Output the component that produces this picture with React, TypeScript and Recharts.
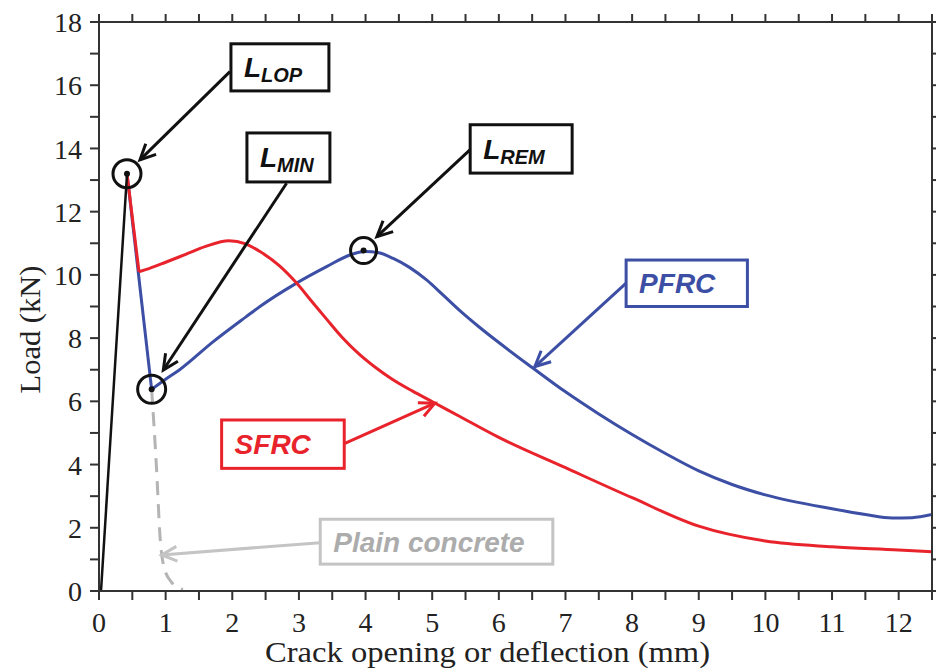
import React from 'react';
import {
  LineChart,
  Line,
  XAxis,
  YAxis,
  ReferenceDot,
  ReferenceLine,
  ReferenceArea,
} from 'recharts';

// axis ticks
const xTicks = [0, 0.5, 1, 1.5, 2, 2.5, 3, 3.5, 4, 4.5, 5, 5.5, 6, 6.5, 7, 7.5, 8, 8.5, 9, 9.5, 10, 10.5, 11, 11.5, 12, 12.5];
const yTicks = [0, 1, 2, 3, 4, 5, 6, 7, 8, 9, 10, 11, 12, 13, 14, 15, 16, 17, 18];

// elastic branch (common to all)
const elasticX = [0.03, 0.42];
const elasticY = [0, 13.2];

// SFRC: sharp drop then smooth tail
const sfrcDropX = [0.42, 0.6];
const sfrcDropY = [13.2, 10.1];
const sfrcX = [0.6, 0.75, 1.0, 1.3, 1.6, 1.95, 2.2, 2.415, 2.7, 2.965, 3.2, 3.415, 3.65, 3.9, 4.15, 4.4, 4.7, 5.01, 5.415, 6.0, 7.0, 8.0, 9.0, 10.0, 11.0, 12.0, 12.5];
const sfrcY = [10.1, 10.2, 10.4, 10.65, 10.9, 11.08, 10.98, 10.74, 10.3, 9.74, 9.14, 8.6, 8.02, 7.5, 7.07, 6.7, 6.33, 5.98, 5.52, 4.86, 3.9, 2.95, 2.05, 1.58, 1.4, 1.3, 1.24];

// PFRC: drop to L_MIN then hardening hump
const pfrcDropX = [0.42, 0.79];
const pfrcDropY = [13.2, 6.38];
const pfrcX = [0.79, 1.0, 1.21, 1.71, 2.21, 2.415, 2.965, 3.415, 3.765, 3.99, 4.2, 4.415, 4.665, 4.915, 5.165, 5.415, 5.7, 6.0, 6.5, 7.0, 7.5, 8.0, 8.5, 9.0, 9.5, 10.0, 11.0, 11.5, 11.9, 12.2, 12.5];
const pfrcY = [6.38, 6.7, 7.0, 7.88, 8.68, 9.0, 9.74, 10.26, 10.63, 10.74, 10.7, 10.52, 10.23, 9.84, 9.36, 8.87, 8.36, 7.86, 7.07, 6.3, 5.6, 4.95, 4.35, 3.8, 3.37, 3.04, 2.6, 2.42, 2.31, 2.32, 2.42];

// plain concrete (dashed)
const plainX = [0.79, 0.86, 0.92, 0.97, 1.08, 1.26];
const plainY = [6.38, 4.0, 1.6, 0.8, 0.3, 0.04];

// characteristic points
const lop = { x: 0.42, y: 13.2 };
const lmin = { x: 0.79, y: 6.38 };
const lrem = { x: 3.97, y: 10.77 };

const zip = (xs: number[], ys: number[]) => xs.map((x, i) => ({ x, y: ys[i] }));

const RED = '#e8232b';
const BLUE = '#3c4fa5';
const GRAY = '#b4b4b4';
const LIGHT = '#c4c4c4';

type Box = { x1: number; x2: number; y1: number; y2: number; main: string; sub: string; color: string; text: string; from: [number, number]; to: [number, number] };

const boxes: Box[] = [
  { x1: 1.98, x2: 3.45, y1: 15.82, y2: 17.31, main: 'L', sub: 'LOP', color: '#111', text: '#111', from: [1.965, 16.43], to: [0.615, 13.64] },
  { x1: 2.22, x2: 3.465, y1: 12.94, y2: 14.49, main: 'L', sub: 'MIN', color: '#111', text: '#111', from: [2.815, 12.9], to: [0.965, 6.99] },
  { x1: 5.57, x2: 7.1, y1: 13.22, y2: 14.75, main: 'L', sub: 'REM', color: '#111', text: '#111', from: [5.57, 13.96], to: [4.17, 11.21] },
  { x1: 7.91, x2: 9.73, y1: 9.0, y2: 10.47, main: 'PFRC', sub: '', color: BLUE, text: BLUE, from: [7.91, 9.74], to: [6.54, 7.1] },
  { x1: 1.84, x2: 3.68, y1: 3.88, y2: 5.41, main: 'SFRC', sub: '', color: RED, text: RED, from: [3.69, 4.67], to: [5.04, 5.94] },
  { x1: 3.32, x2: 6.81, y1: 0.85, y2: 2.27, main: 'Plain concrete', sub: '', color: LIGHT, text: '#acacac', from: [3.32, 1.53], to: [0.94, 1.14] },
];

const arrowShape = (color: string) => (props: any) => {
  const { x1, y1, x2, y2 } = props;
  const a = Math.atan2(y2 - y1, x2 - x1);
  const len = 17;
  const s = 0.45;
  const p1 = `${x2 - len * Math.cos(a - s)},${y2 - len * Math.sin(a - s)}`;
  const p2 = `${x2 - len * Math.cos(a + s)},${y2 - len * Math.sin(a + s)}`;
  return (
    <g>
      <line x1={x1} y1={y1} x2={x2} y2={y2} stroke={color} strokeWidth={3} />
      <polyline points={`${p1} ${x2},${y2} ${p2}`} fill="none" stroke={color} strokeWidth={3} />
    </g>
  );
};

const boxShape = (b: Box) => (props: any) => {
  const { x, y, width, height } = props;
  return (
    <g>
      <rect x={x} y={y} width={width} height={height} fill="#fff" stroke={b.color} strokeWidth={3} />
      <text
        x={x + 13}
        y={y + height / 2 + 10}
        fill={b.text}
        fontFamily="'Liberation Sans', Arial, sans-serif"
        fontWeight="bold"
        fontStyle="italic"
        fontSize={28}
      >
        {b.main}
        {b.sub ? (
          <tspan fontSize={20} dy={5}>
            {b.sub}
          </tspan>
        ) : null}
      </text>
    </g>
  );
};

const FONT = "'Liberation Serif', 'Times New Roman', serif";

const BottomTick = (props: any) => {
  const { x, y, payload } = props;
  if (!Number.isInteger(payload.value)) return <g />;
  return (
    <text x={x} y={y} dy="0.72em" textAnchor="middle" fontFamily={FONT} fontSize={28} fill="#222">
      {payload.value}
    </text>
  );
};

const LeftTick = (props: any) => {
  const { x, y, payload } = props;
  if (payload.value % 2 !== 0) return <g />;
  return (
    <text x={x} y={y} dy="0.36em" textAnchor="end" fontFamily={FONT} fontSize={28} fill="#222">
      {payload.value}
    </text>
  );
};

const NoTick = () => <g />;

const XLabel = (props: any) => {
  const { viewBox } = props;
  return (
    <text
      x={viewBox.x + viewBox.width / 2 - 28}
      y={662}
      textAnchor="middle"
      fontFamily={FONT}
      fontSize={29}
      fill="#222"
      textLength={445}
      lengthAdjust="spacingAndGlyphs"
    >
      Crack opening or deflection (mm)
    </text>
  );
};

const YLabel = (props: any) => {
  const { viewBox } = props;
  const cy = viewBox.y + viewBox.height / 2 + 23;
  return (
    <text
      x={40}
      y={cy}
      transform={`rotate(-90 40 ${cy})`}
      textAnchor="middle"
      fontFamily={FONT}
      fontSize={29}
      fill="#222"
      textLength={128}
      lengthAdjust="spacingAndGlyphs"
    >
      Load (kN)
    </text>
  );
};

export default function App() {
  const axisColor = '#333';
  return (
    <div style={{ position: 'absolute', left: 0, top: 0, background: '#fff' }}>
      <LineChart width={936} height={671} margin={{ top: 0, right: 0, bottom: 0, left: 0 }}>
        <XAxis
          xAxisId="b"
          dataKey="x"
          type="number"
          domain={[0, 12.5]}
          ticks={xTicks}
          interval={0}
          height={80}
          tickSize={9}
          tickMargin={12}
          tick={<BottomTick />}
          stroke={axisColor}
          strokeWidth={2}
          allowDataOverflow
          label={<XLabel />}
        />
        <XAxis
          xAxisId="t"
          orientation="top"
          dataKey="x"
          type="number"
          domain={[0, 12.5]}
          ticks={xTicks}
          interval={0}
          height={22}
          tickSize={8}
          tick={<NoTick />}
          stroke={axisColor}
          strokeWidth={2}
          allowDataOverflow
        />
        <YAxis
          yAxisId="l"
          type="number"
          domain={[0, 18]}
          ticks={yTicks}
          interval={0}
          width={99}
          tickSize={9}
          tickMargin={8}
          tick={<LeftTick />}
          stroke={axisColor}
          strokeWidth={2}
          allowDataOverflow
          label={<YLabel />}
        />
        <YAxis
          yAxisId="r"
          orientation="right"
          type="number"
          domain={[0, 18]}
          ticks={yTicks}
          interval={0}
          width={4}
          tickSize={8}
          tick={<NoTick />}
          stroke={axisColor}
          strokeWidth={2}
          allowDataOverflow
        />

        <Line xAxisId="b" yAxisId="l" data={zip(plainX, plainY)} dataKey="y" type="monotone" stroke={GRAY} strokeWidth={3} strokeDasharray="14 9" dot={false} activeDot={false} isAnimationActive={false} />
        <Line xAxisId="b" yAxisId="l" data={zip(pfrcDropX, pfrcDropY)} dataKey="y" type="linear" stroke={BLUE} strokeWidth={3} dot={false} activeDot={false} isAnimationActive={false} />
        <Line xAxisId="b" yAxisId="l" data={zip(pfrcX, pfrcY)} dataKey="y" type="monotone" stroke={BLUE} strokeWidth={3} dot={false} activeDot={false} isAnimationActive={false} />
        <Line xAxisId="b" yAxisId="l" data={zip(sfrcDropX, sfrcDropY)} dataKey="y" type="linear" stroke={RED} strokeWidth={3} dot={false} activeDot={false} isAnimationActive={false} />
        <Line xAxisId="b" yAxisId="l" data={zip(sfrcX, sfrcY)} dataKey="y" type="monotone" stroke={RED} strokeWidth={3} dot={false} activeDot={false} isAnimationActive={false} />
        <Line xAxisId="b" yAxisId="l" data={zip(elasticX, elasticY)} dataKey="y" type="linear" stroke="#111" strokeWidth={2.5} dot={false} activeDot={false} isAnimationActive={false} />

        {boxes.map((b, i) => (
          <ReferenceLine
            key={`a${i}`}
            xAxisId="b"
            yAxisId="l"
            segment={[
              { x: b.from[0], y: b.from[1] },
              { x: b.to[0], y: b.to[1] },
            ]}
            shape={arrowShape(b.color)}
          />
        ))}
        {boxes.map((b, i) => (
          <ReferenceArea key={`b${i}`} xAxisId="b" yAxisId="l" x1={b.x1} x2={b.x2} y1={b.y1} y2={b.y2} shape={boxShape(b)} />
        ))}

        {[lop, lmin, lrem].map((p, i) => (
          <ReferenceDot key={`c${i}`} xAxisId="b" yAxisId="l" x={p.x} y={p.y} r={i === 2 ? 13 : 14} fill="none" stroke="#111" strokeWidth={3} />
        ))}
        {[lop, lmin, lrem].map((p, i) => (
          <ReferenceDot key={`d${i}`} xAxisId="b" yAxisId="l" x={p.x} y={p.y} r={3} fill="#111" stroke="none" />
        ))}
      </LineChart>
    </div>
  );
}
